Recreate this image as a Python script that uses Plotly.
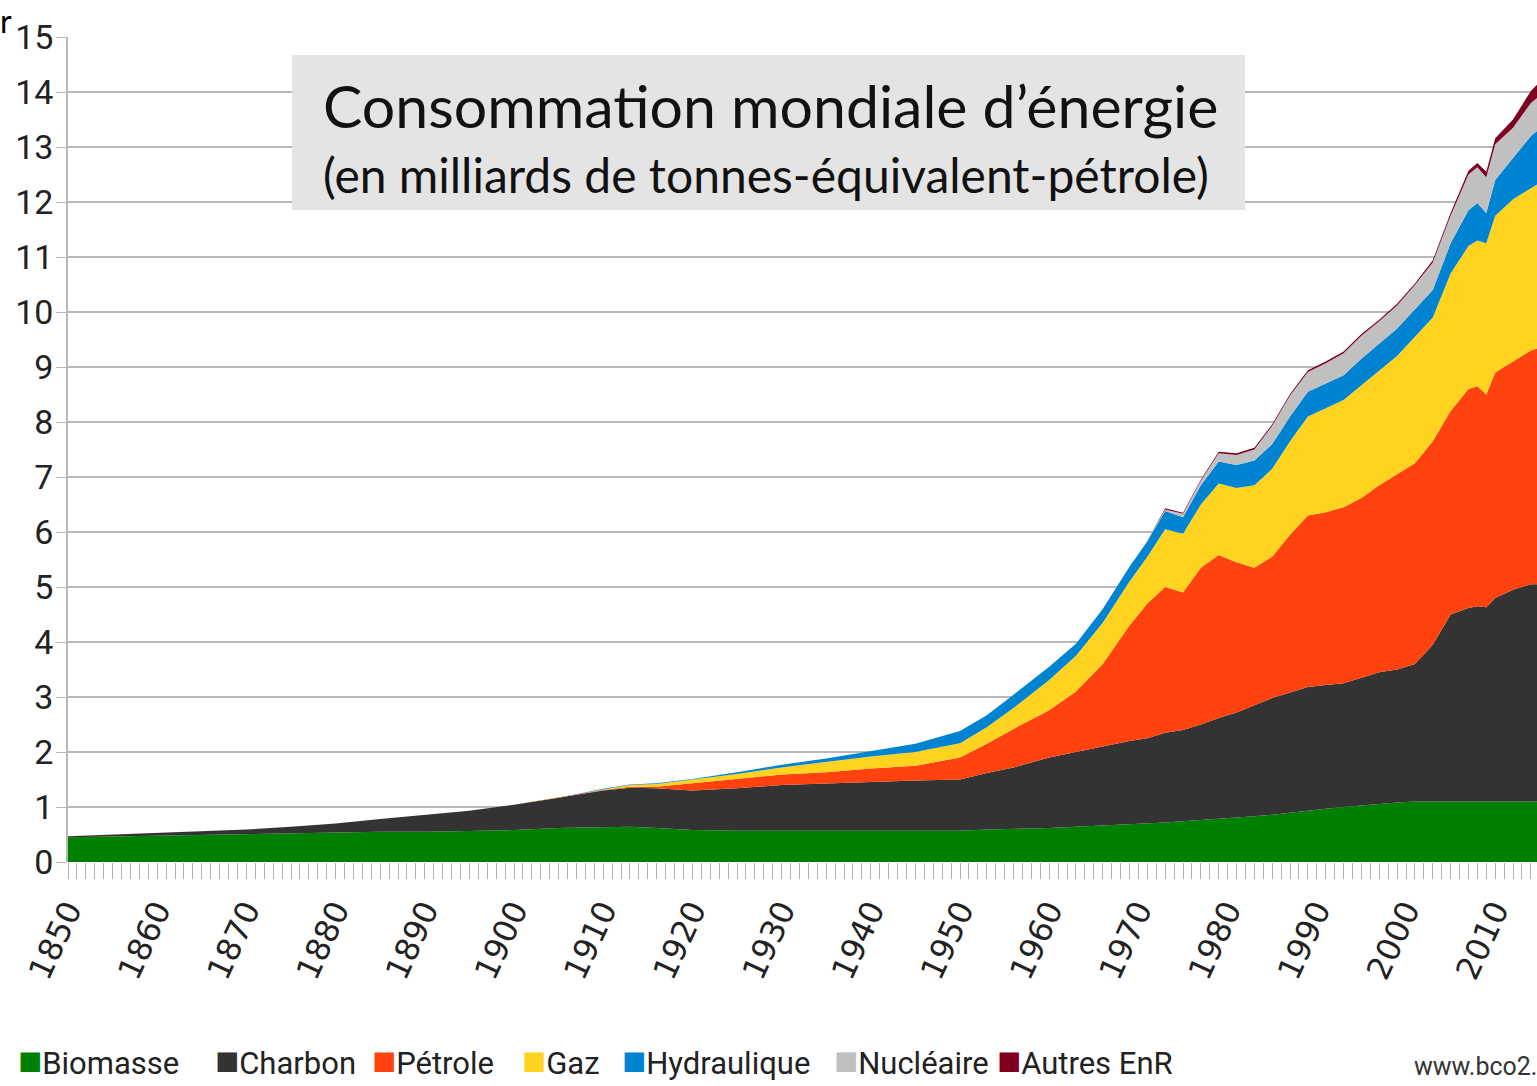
import plotly.graph_objects as go

years = [1850, 1860, 1870, 1875, 1880, 1885, 1890, 1895, 1900, 1905, 1910,
         1913, 1916, 1920, 1925, 1930, 1935, 1940, 1945, 1950,
         1953, 1956, 1960, 1963, 1966, 1969, 1971,
         1973, 1975, 1977, 1979, 1981, 1983, 1985, 1987, 1989,
         1991, 1993, 1995, 1997, 1999, 2001, 2003, 2005,
         2007, 2008, 2009, 2010, 2012, 2014, 2015]

biomasse = [0.45, 0.48, 0.50, 0.52, 0.53, 0.55, 0.55, 0.56, 0.58, 0.62, 0.64,
            0.64, 0.62, 0.58, 0.57, 0.57, 0.57, 0.57, 0.57, 0.57,
            0.59, 0.60, 0.62, 0.64, 0.66, 0.68, 0.70,
            0.72, 0.74, 0.76, 0.78, 0.80, 0.83, 0.86, 0.90, 0.94,
            0.97, 1.00, 1.03, 1.06, 1.08, 1.10, 1.10, 1.10,
            1.10, 1.10, 1.10, 1.10, 1.10, 1.10, 1.10]

charbon = [0.02, 0.05, 0.09, 0.12, 0.17, 0.23, 0.31, 0.37, 0.46, 0.55, 0.66,
           0.71, 0.72, 0.72, 0.77, 0.83, 0.86, 0.89, 0.91, 0.93,
           1.03, 1.12, 1.28, 1.36, 1.44, 1.52, 1.55,
           1.63, 1.66, 1.74, 1.84, 1.92, 2.02, 2.12, 2.18, 2.24,
           2.25, 2.25, 2.32, 2.39, 2.42, 2.50, 2.85, 3.40,
           3.52, 3.55, 3.53, 3.70, 3.85, 3.95, 3.95]

petrole = [0, 0, 0, 0, 0, 0, 0, 0, 0, 0, 0.01,
           0.02, 0.03, 0.13, 0.17, 0.19, 0.20, 0.24, 0.27, 0.40,
           0.53, 0.70, 0.86, 1.10, 1.50, 2.10, 2.45,
           2.65, 2.50, 2.85, 2.96, 2.73, 2.50, 2.57, 2.87, 3.12,
           3.14, 3.20, 3.27, 3.40, 3.55, 3.65, 3.70, 3.70,
           3.98, 4.00, 3.87, 4.10, 4.15, 4.25, 4.30]

gaz = [0, 0, 0, 0, 0, 0, 0, 0, 0, 0, 0.01,
       0.03, 0.05, 0.07, 0.09, 0.13, 0.19, 0.22, 0.25, 0.26,
       0.30, 0.38, 0.55, 0.65, 0.75, 0.80, 0.85,
       1.05, 1.07, 1.15, 1.30, 1.35, 1.50, 1.60, 1.70, 1.80,
       1.89, 1.95, 2.05, 2.08, 2.15, 2.30, 2.25, 2.50,
       2.60, 2.65, 2.75, 2.85, 2.95, 2.95, 3.00]

hydraulique = [0, 0, 0, 0, 0, 0, 0, 0, 0, 0, 0.01,
               0.01, 0.01, 0.01, 0.03, 0.05, 0.06, 0.10, 0.15, 0.22,
               0.22, 0.24, 0.24, 0.22, 0.25, 0.27, 0.28,
               0.33, 0.30, 0.35, 0.40, 0.42, 0.45, 0.45, 0.45, 0.45,
               0.45, 0.45, 0.48, 0.50, 0.50, 0.50, 0.50, 0.55,
               0.65, 0.68, 0.55, 0.65, 0.75, 0.95, 0.98]

nucleaire = [0, 0, 0, 0, 0, 0, 0, 0, 0, 0, 0,
             0, 0, 0, 0, 0, 0, 0, 0, 0,
             0, 0, 0, 0, 0, 0, 0.01,
             0.03, 0.06, 0.08, 0.15, 0.18, 0.20, 0.33, 0.38, 0.36,
             0.37, 0.40, 0.42, 0.40, 0.42, 0.44, 0.50, 0.50,
             0.65, 0.65, 0.65, 0.65, 0.55, 0.60, 0.60]

autres = [0, 0, 0, 0, 0, 0, 0, 0, 0, 0, 0,
          0, 0, 0, 0, 0, 0, 0, 0, 0,
          0, 0, 0, 0, 0, 0, 0,
          0.02, 0.02, 0.02, 0.03, 0.03, 0.03, 0.03, 0.03, 0.03,
          0.03, 0.03, 0.03, 0.03, 0.03, 0.03, 0.04, 0.05,
          0.07, 0.08, 0.10, 0.11, 0.15, 0.22, 0.25]

series_names = ["Biomasse", "Charbon", "Pétrole", "Gaz", "Hydraulique", "Nucléaire", "Autres EnR"]
series_values = [biomasse, charbon, petrole, gaz, hydraulique, nucleaire, autres]
series_colors = ["#008000", "#333333", "#ff420e", "#ffd320", "#0084d1", "#c0c0c0", "#7e0021"]

y_ticks = list(range(0, 16))
x_ticks = list(range(1850, 2011, 10))

SANS = "Roboto, Liberation Sans, sans-serif"

fig = go.Figure()
for name, vals, col in zip(series_names, series_values, series_colors):
    fig.add_trace(go.Scatter(
        x=years, y=vals, name=name, mode="lines",
        stackgroup="energie",
        line=dict(width=0, color=col, shape="linear"),
        fillcolor=col, showlegend=False,
    ))

W, H = 1537, 1086
L, T, R, B = 68, 37, 0, 224
pw, ph = W - L - R, H - T - B


def px(xw):
    return (xw - L) / pw


def py(yw):
    return (H - B - yw) / ph


fig.update_layout(
    width=W, height=H,
    margin=dict(l=L, r=R, t=T, b=B, autoexpand=False),
    paper_bgcolor="white", plot_bgcolor="white",
    showlegend=False,
    xaxis=dict(
        range=[1850, 1850 + pw / 8.92], tickmode="array", tickvals=x_ticks,
        ticktext=[str(v) for v in x_ticks],
        showgrid=False, zeroline=False, showline=False,
        ticks="outside", ticklen=16, tickwidth=1, tickcolor="#b0b0b0",
        minor=dict(dtick=1, tick0=1850, ticks="outside", ticklen=16, tickwidth=1,
                   tickcolor="#b0b0b0", showgrid=False),
        tickangle=-65,
        tickfont=dict(family="DejaVu Sans, sans-serif", size=32, color="#222222"),
        automargin=False,
    ),
    yaxis=dict(
        range=[0, 15], tickmode="array", tickvals=y_ticks,
        showgrid=True, gridcolor="#b8b8b8", gridwidth=1.5,
        zeroline=False, showline=True, linecolor="#b8b8b8", linewidth=1.5,
        ticks="outside", ticklen=10, tickcolor="#b8b8b8",
        ticklabelstandoff=-4,
        tickfont=dict(family=SANS, size=34, color="#222222"),
        automargin=False,
    ),
)

# title box
fig.add_shape(type="rect", xref="paper", yref="paper",
              x0=px(292), x1=px(1245), y0=py(210), y1=py(55),
              fillcolor="#e4e4e4", line=dict(width=0), layer="above")
fig.add_annotation(xref="paper", yref="paper", x=px(770), y=py(106),
                   text="Consommation mondiale d’énergie", showarrow=False,
                   font=dict(family="Lato, Open Sans, sans-serif", size=59, color="#111111"),
                   xanchor="center", yanchor="middle")
fig.add_annotation(xref="paper", yref="paper", x=px(766), y=py(175),
                   text="(en milliards de tonnes-équivalent-pétrole)", showarrow=False,
                   font=dict(family="Lato, Open Sans, sans-serif", size=48, color="#111111"),
                   xanchor="center", yanchor="middle")

# stray corner letter
fig.add_annotation(xref="paper", yref="paper", x=px(-1), y=py(0),
                   text="r", showarrow=False,
                   font=dict(family="Lato, Open Sans, sans-serif", size=32, color="#000000"),
                   xanchor="left", yanchor="top", borderpad=0)

# legend row
legend_x = [16, 213, 370, 520, 620, 832, 995]
for name, col, lx in zip(series_names, series_colors, legend_x):
    fig.add_annotation(xref="paper", yref="paper", x=px(lx), y=py(1060),
                       text=f"<span style='color:{col};font-size:40px'>■</span>{name}",
                       showarrow=False,
                       font=dict(family=SANS, size=31, color="#222222"),
                       xanchor="left", yanchor="middle")

fig.add_annotation(xref="paper", yref="paper", x=px(1412), y=py(1066),
                   text="www.bco2.fr", showarrow=False,
                   font=dict(family=SANS, size=25, color="#333333"),
                   xanchor="left", yanchor="middle")

fig.write_html("out.html", config={"displayModeBar": False},
               post_script="document.body.style.margin='0px';")
